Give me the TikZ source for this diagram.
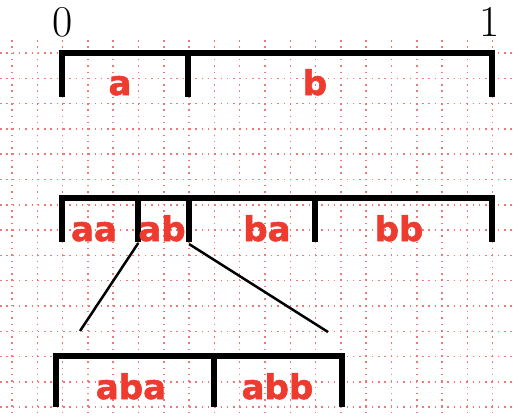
\documentclass[tikz,border=0pt]{standalone}
\usepackage{fontspec}
\newfontfamily\lblfont{DejaVu Sans}[BoldFeatures={FakeBold=1.6}]
\definecolor{dotpink}{RGB}{240,120,120}
\definecolor{lblred}{RGB}{237,59,47}

\begin{document}
\begin{tikzpicture}[x=1pt,y=-1pt]
      \tikzstyle{gridline}=[dotpink,line width=1.5pt,dash pattern=on 1.5pt off 4.8pt]
      \tikzstyle{bar}=[line width=6pt,miter limit=10]
      \tikzstyle{link}=[line width=2.5pt]
      \tikzstyle{seg}=[lblred,font=\lblfont\bfseries\fontsize{34}{34}\selectfont,anchor=base,inner sep=0pt]
      \tikzstyle{endlabel}=[font=\fontsize{44}{44}\selectfont,anchor=base,inner sep=0pt]
      \useasboundingbox (0,0) rectangle (516,416);
      % dotted grid
      \foreach \i in {0,...,19}
        \draw[gridline] ({12+25.3*\i},40) -- ({12+25.3*\i},416);
      \foreach \j in {0,...,14}
        \draw[gridline] (0,{53+25.3*\j}) -- (516,{53+25.3*\j});
      % first level
      \draw[bar] (62,97) -- (62,53) -- (492,53) -- (492,97);
      \draw[bar] (188,53) -- (188,97);
      \node[endlabel] (zero) at (63,36) {0};
      \node[endlabel] (one) at (490,36) {1};
      \node[seg] (a) at (120,95) {a};
      \node[seg] (b) at (315,95) {b};
      % second level
      \draw[bar] (62,242) -- (62,197.5) -- (492,197.5) -- (492,242);
      \foreach \x in {138,189,315}
        \draw[bar] (\x,197.5) -- (\x,242);
      \node[seg] (aa) at (94,241) {aa};
      \node[seg] (ab) at (162,241) {ab};
      \node[seg] (ba) at (267,241) {ba};
      \node[seg] (bb) at (399,241) {bb};
      % third level
      \draw[bar] (55.5,407) -- (55.5,356) -- (341.5,356) -- (341.5,407);
      \draw[bar] (213.7,356) -- (213.7,407);
      \node[seg] (aba) at (131,399) {aba};
      \node[seg] (abb) at (277.5,399) {abb};
      % zoom lines
      \coordinate (ab-left) at (138.3,243);
      \coordinate (ab-right) at (189,244);
      \coordinate (zoom-left) at (80,331);
      \coordinate (zoom-right) at (328,332);
      \draw[link] (ab-left) -- (zoom-left);
      \draw[link] (ab-right) -- (zoom-right);
\end{tikzpicture}
\end{document}
